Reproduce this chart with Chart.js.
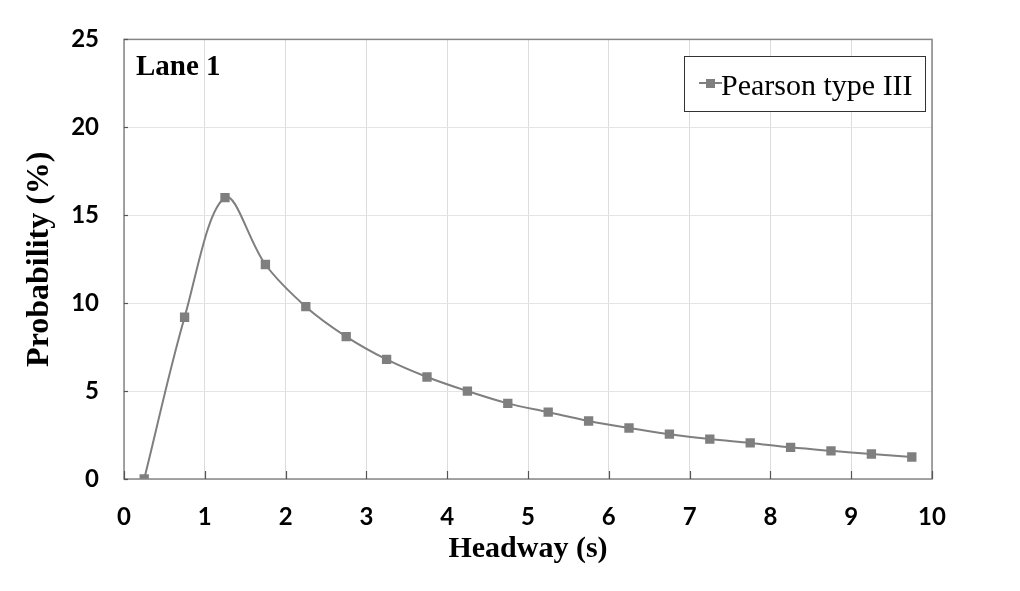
<!DOCTYPE html>
<html>
<head>
<meta charset="utf-8">
<script src="https://cdn.jsdelivr.net/npm/chart.js@4/dist/chart.umd.min.js"></script>
<style>
html,body{margin:0;padding:0;background:#fff;}
#wrap{width:1020px;height:591px;}
</style>
</head>
<body>
<div id="wrap"><canvas id="c" width="1020" height="591"></canvas></div>
<script>
const headway = [0.25,0.75,1.25,1.75,2.25,2.75,3.25,3.75,4.25,4.75,5.25,5.75,6.25,6.75,7.25,7.75,8.25,8.75,9.25,9.75];
const probability = [0.0,9.2,16.0,12.2,9.8,8.1,6.8,5.8,5.0,4.3,3.8,3.3,2.9,2.55,2.27,2.05,1.8,1.6,1.42,1.25];
const seriesName = 'Pearson type III';
const panelLabel = 'Lane 1';
const xTitle = 'Headway (s)';
const yTitle = 'Probability (%)';
const xTicks = [0,1,2,3,4,5,6,7,8,9,10];
const yTicks = [0,5,10,15,20,25];

const GREY = '#7f7f7f';
const points = headway.map((x,i)=>({x:x,y:probability[i]}));

const decor = {
  id:'decor',
  afterDraw(chart){
    const ctx = chart.ctx, a = chart.chartArea;
    const xs = chart.scales.x, ys = chart.scales.y;
    ctx.save();
    ctx.strokeStyle = '#868686';
    ctx.lineWidth = 1.5;
    ctx.strokeRect(a.left, a.top, a.right-a.left, a.bottom-a.top);
    ctx.lineWidth = 1.2;
    ctx.strokeStyle = '#555';
    xTicks.forEach(v=>{
      const px = Math.round(xs.getPixelForValue(v))+0.5;
      ctx.beginPath(); ctx.moveTo(px,a.bottom); ctx.lineTo(px,a.bottom-8); ctx.stroke();
    });
    yTicks.forEach(v=>{
      const py = Math.round(ys.getPixelForValue(v))+0.5;
      ctx.beginPath(); ctx.moveTo(a.left,py); ctx.lineTo(a.left+4,py); ctx.stroke();
    });
    ctx.fillStyle = '#000';
    ctx.font = 'bold 29px "Liberation Serif"';
    ctx.textAlign = 'left';
    ctx.textBaseline = 'alphabetic';
    ctx.fillText(panelLabel, a.left+12, 75);
    const bx = 684, by = 56, bw = 241, bh = 55;
    ctx.fillStyle = '#fff';
    ctx.fillRect(bx,by,bw,bh);
    ctx.strokeStyle = '#333';
    ctx.lineWidth = 1;
    ctx.strokeRect(bx+0.5,by+0.5,bw,bh);
    ctx.strokeStyle = GREY; ctx.lineWidth = 2;
    ctx.beginPath(); ctx.moveTo(699,83); ctx.lineTo(722,83); ctx.stroke();
    ctx.fillStyle = GREY;
    ctx.fillRect(706,79,9,9);
    ctx.fillStyle = '#000';
    ctx.font = '30px "Liberation Serif"';
    ctx.fillText(seriesName, 721, 95);
    ctx.restore();
  }
};

new Chart(document.getElementById('c'), {
  type:'line',
  data:{datasets:[{
    label:seriesName,
    data:points,
    borderColor:GREY,
    backgroundColor:GREY,
    borderWidth:2,
    tension:0.35,
    pointStyle:'rect',
    pointRadius:6.6,
    pointBorderWidth:0,
    pointBackgroundColor:GREY,
    fill:false
  }]},
  options:{
    responsive:false,
    animation:false,
    devicePixelRatio:1,
    layout:{padding:{left:0,right:88,top:39,bottom:0}},
    plugins:{legend:{display:false},tooltip:{enabled:false}},
    scales:{
      x:{
        type:'linear', min:0, max:10,
        afterBuildTicks(s){ s.ticks = xTicks.map(v=>({value:v})); },
        afterFit(s){ s.height = 112; },
        grid:{color:'#dcdcdc', lineWidth:1, drawTicks:false},
        border:{display:false},
        ticks:{color:'#000', padding:24, font:{family:'Lato', weight:'bold', size:24}},
        title:{display:true, text:xTitle, color:'#000', padding:{top:0,bottom:24}, font:{family:'"Liberation Serif"', weight:'bold', size:30}}
      },
      y:{
        type:'linear', min:0, max:25,
        afterBuildTicks(s){ s.ticks = yTicks.map(v=>({value:v})); },
        afterFit(s){ s.width = 124; },
        grid:{color:'#e4e4e4', lineWidth:1, drawTicks:false},
        border:{display:false},
        ticks:{color:'#000', padding:25, font:{family:'Lato', weight:'bold', size:24}},
        title:{display:true, text:yTitle, color:'#000', padding:{top:21,bottom:0}, font:{family:'"Liberation Serif"', weight:'bold', size:32}}
      }
    }
  },
  plugins:[decor]
});
</script>
</body>
</html>
